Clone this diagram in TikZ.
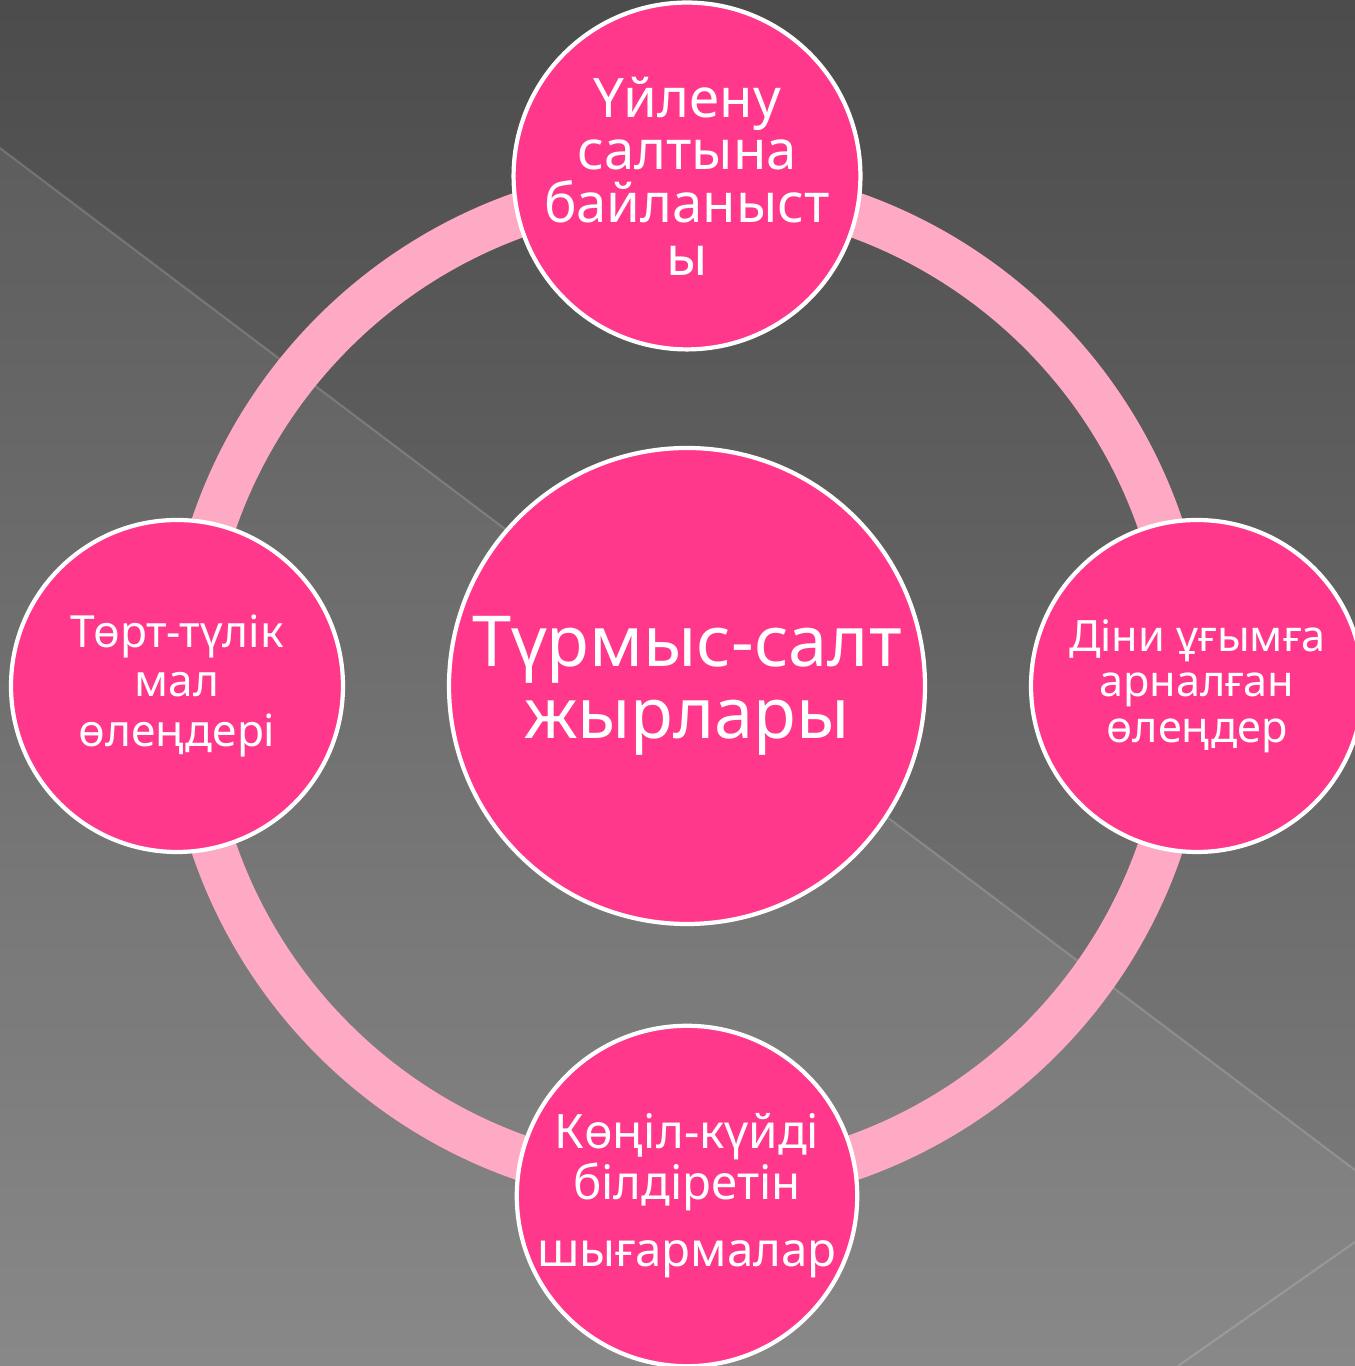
\documentclass[tikz,border=0pt]{standalone}
\usepackage{fontspec}
\setmainfont{Noto Sans}
\usepackage{tikz}
\usetikzlibrary{positioning}
\definecolor{bgdark}{RGB}{75,75,75}
\definecolor{bglight}{RGB}{128,128,128}
\definecolor{songpink}{RGB}{255,56,140}
\definecolor{ringpink}{RGB}{255,170,196}
\tikzstyle{bgline} = [draw=white, draw opacity=0.16, line width=0.6pt]
\tikzstyle{ring} = [line width=0.45cm, color=ringpink]
\tikzstyle{hub} = [circle, minimum size=4.76cm, inner sep=0pt, align=center, draw=white, fill=songpink, line width=1.2pt, text=white]
\tikzstyle{genre} = [circle, minimum size=3.32cm, inner sep=0pt, align=center, draw=white, fill=songpink, line width=1.2pt, text=white]

\begin{document}
\begin{tikzpicture}
\useasboundingbox (0,0) rectangle (13.55,13.66);
% Background
\begin{scope}
\clip (0,0) rectangle (13.55,13.66);
\shade[top color=bgdark, bottom color=bglight] (-0.2,-0.2) rectangle (13.75,13.86);
\fill[white, opacity=0.07] (-0.2,12.33) -- (13.75,1.81) -- (13.75,-0.2) -- (-0.2,-0.2) -- cycle;
\draw[bgline] (-0.2,12.33) -- (13.75,1.81);
\draw[bgline] (11.78,0) -- (13.55,1.24);
\end{scope}

% Centre
\node (mid) [hub, font=\fontsize{20}{20.5}\selectfont] at (6.87,6.80) {Түрмыс-салт\\жырлары};

% Ring
\draw[ring] (mid.center) circle (5.0cm);

% Song kinds
\node (wed) [genre, above of=mid, node distance=5.1cm, font=\fontsize{15.5}{15}\selectfont] {Үйлену\\салтына\\байланыст\\ы};
\node (faith) [genre, right of=mid, node distance=5.1cm, font=\fontsize{12.3}{13}\selectfont] {Діни ұғымға\\арналған\\өлеңдер};
\node (mood) [genre, below of=mid, node distance=5.1cm, font=\fontsize{13.5}{14.5}\selectfont] {Көңіл-күйді\\білдіретін\\[4.5pt]шығармалар};
\node (herd) [genre, left of=mid, node distance=5.1cm, font=\fontsize{12.6}{14.2}\selectfont] {Төрт-түлік\\мал\\өлеңдері};
\end{tikzpicture}
\end{document}
